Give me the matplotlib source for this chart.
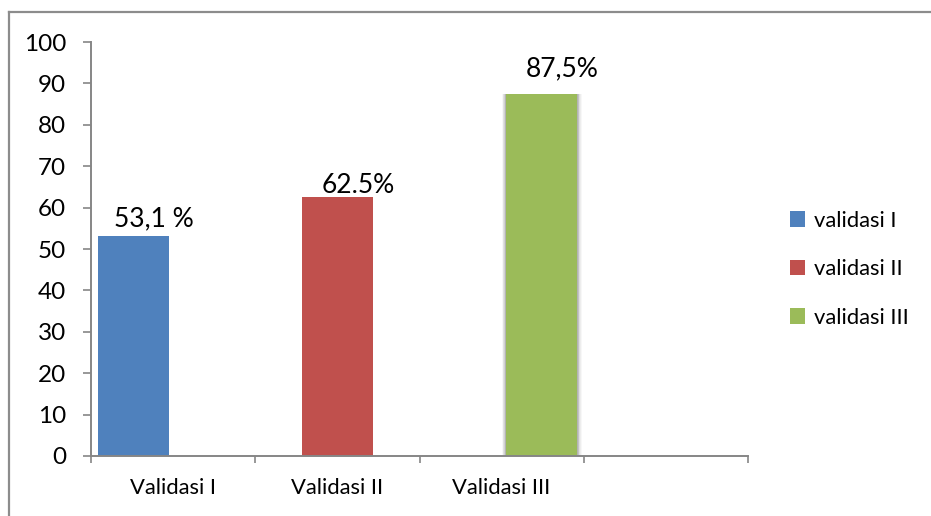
import matplotlib
matplotlib.use("Agg")
import matplotlib.pyplot as plt
from matplotlib.patches import Rectangle
from matplotlib.lines import Line2D

plt.rcParams['font.family'] = ['Lato', 'DejaVu Sans']

# Data
categories = ["Validasi I", "Validasi II", "Validasi III", ""]
series_names = ["validasi I", "validasi II", "validasi III"]
series_values = [53.1, 62.5, 87.5]
value_labels = ["53,1 %", "62.5%", "87,5%"]
colors = ["#4F81BD", "#C0504D", "#9BBB59"]
y_ticks = [0, 10, 20, 30, 40, 50, 60, 70, 80, 90, 100]

W, H = 931, 516
fig = plt.figure(figsize=(W / 100, H / 100), dpi=100)
ax = fig.add_axes([91 / W, (H - 456) / H, (748 - 91) / W, (456 - 42) / H])

n_cat = len(categories)
bar_w = 0.432
offsets = [-0.241, 0.0, 0.243]
label_dy = [10, 4, 17]  # label baseline above bar top, px

for i, (name, val, col) in enumerate(zip(series_names, series_values, colors)):
    x = i + 0.5 + offsets[i]
    if i == 2:
        # soft drop shadow behind the last bar
        for k, a in zip(range(6, 0, -1), [0.03, 0.04, 0.05, 0.06, 0.07, 0.08]):
            pad = k * 0.0045
            ax.add_patch(Rectangle((x - bar_w / 2 - pad * 0.9, 0), bar_w + pad * 2.0, val - pad * 2,
                                   facecolor='black', alpha=a, edgecolor='none', zorder=1))
    ax.bar(x, val, width=bar_w, color=col, label=name, zorder=2)
    ax.annotate(value_labels[i], xy=(x, val), xytext=(15, label_dy[i] * 0.72),
                textcoords='offset points', ha='center', va='baseline',
                fontsize=19, color='black', zorder=3)

ax.set_xlim(0, n_cat)
ax.set_ylim(0, 100)
ax.set_yticks(y_ticks)
ax.set_yticklabels([str(t) for t in y_ticks])
ax.set_xticks(range(n_cat + 1))
ax.set_xticklabels([])
ax.set_xticks([c + 0.5 for c in range(n_cat)], minor=True)
ax.set_xticklabels(categories, minor=True)

axis_grey = '#868686'
for s in ['top', 'right']:
    ax.spines[s].set_visible(False)
for s in ['left', 'bottom']:
    ax.spines[s].set_color(axis_grey)
    ax.spines[s].set_linewidth(1.4)

ax.tick_params(axis='y', which='major', direction='out', length=5.8, width=1.2,
               color=axis_grey, pad=12, labelsize=17.5, labelcolor='black')
ax.tick_params(axis='x', which='major', direction='out', length=5.2, width=1.2,
               color=axis_grey)
ax.tick_params(axis='x', which='minor', length=0, pad=16, labelsize=15.8,
               labelcolor='black')

leg = fig.legend(loc='upper left', bbox_to_anchor=(781 / W, 1 - 202 / H),
                 frameon=False, fontsize=15.8, handlelength=0.7, handleheight=0.7,
                 handletextpad=0.4, labelspacing=1.3, borderaxespad=0)

# outer chart frame (left and top edges)
fig.add_artist(Line2D([9 / W, 9 / W], [0, 1 - 12 / H], transform=fig.transFigure,
                      color='#8C8C8C', linewidth=1.6))
fig.add_artist(Line2D([9 / W, 1], [1 - 12 / H, 1 - 12 / H], transform=fig.transFigure,
                      color='#8C8C8C', linewidth=1.6))

fig.savefig("out.png", dpi=100, facecolor='white')
